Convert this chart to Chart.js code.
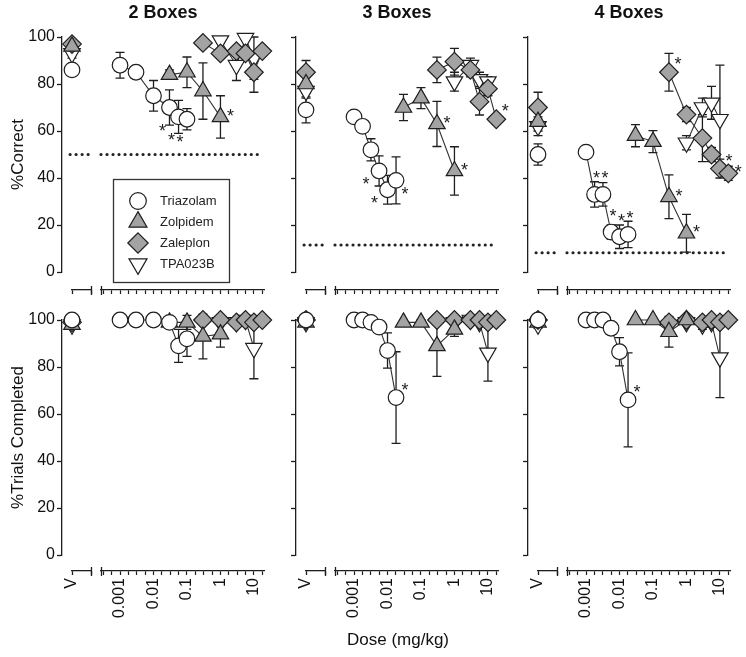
<!DOCTYPE html>
<html><head><meta charset="utf-8">
<script src="https://cdn.jsdelivr.net/npm/chart.js@4.4.1/dist/chart.umd.min.js"></script>
<style>
html,body{margin:0;padding:0;background:#fff;}
#wrap{position:relative;width:746px;height:657px;overflow:hidden;font-family:'Liberation Sans',Arial,Helvetica,sans-serif;}
canvas{position:absolute;}
#xlabel{position:absolute;left:298px;width:200px;top:630px;text-align:center;font-size:17px;color:#111;}
</style></head>
<body><div id="wrap">
<canvas id="p00" width="280" height="300" style="left:0px;top:0px;width:280px;height:300px"></canvas>
<canvas id="p01" width="250" height="300" style="left:264px;top:0px;width:250px;height:300px"></canvas>
<canvas id="p02" width="248" height="300" style="left:498px;top:0px;width:248px;height:300px"></canvas>
<canvas id="p10" width="280" height="357" style="left:0px;top:300px;width:280px;height:357px"></canvas>
<canvas id="p11" width="250" height="357" style="left:264px;top:300px;width:250px;height:357px"></canvas>
<canvas id="p12" width="248" height="357" style="left:498px;top:300px;width:248px;height:357px"></canvas>
<div id="xlabel">Dose (mg/kg)</div>
</div>
<script>
// ---------------- DATA ----------------
const PANEL_TITLES = ['2 Boxes', '3 Boxes', '4 Boxes'];
const ROW_TITLES = ['%Correct', '%Trials Completed'];
const DRUGS = ['Triazolam', 'Zolpidem', 'Zaleplon', 'TPA023B'];
const VEHICLE_LABEL = 'V';
const DOSE_LABEL_VALUES = [0.001, 0.01, 0.1, 1, 10];
const DOSE_TICK_LABELS = ['0.001', '0.01', '0.1', '1', '10'];
const CHANCE = [50, 11.5, 8.2];

const triazolamDose = [
  [0.001, 0.003, 0.01, 0.03, 0.056, 0.1],
  [0.001, 0.0018, 0.0032, 0.0056, 0.01, 0.018],
  [0.001, 0.0018, 0.0032, 0.0056, 0.01, 0.018]
];
const zolpidemDose = [0.03, 0.1, 0.3, 1];
const zaleplonDose = [0.3, 1, 3, 5.6, 10, 17.8];
const tpa023bDose = [1, 3, 5.6, 10];

// %Correct (per panel: 2, 3, 4 boxes)
const vehCorrect = [[86, 96, 97, 93], [69, 80, 85, 77], [50, 64, 70, 62]];
const vehCorrectSem = [[2.5, 2, 1.5, 2], [5.5, 4, 5, 3], [4.5, 4, 6.5, 4]];
const triazolamCorrect = [[88, 85, 75, 70, 66, 65], [66, 62, 52, 43, 35, 39], [51, 33, 33, 17, 15, 16]];
const triazolamCorrectSem = [[5.5, 1.5, 6.5, 7.5, 7, 4.5], [1, 1.5, 4.7, 6.4, 6.1, 10], [1, 5.4, 5, 3, 5, 5.6]];
const triazolamCorrectSig = [['', '', '', 'bl', 'bl', 'bl'], ['', '', '', 'l', 'l', 'br'], ['', 'u', 'u', 'u', 'u', 'u']];
const zolpidemCorrect = [[84, 85, 77, 66], [70, 74, 63, 43], [58, 55.5, 32, 16.5]];
const zolpidemCorrectSem = [[2, 6.5, 12, 9], [5.6, 4.5, 9.6, 10.3], [4.7, 4.7, 9.3, 8]];
const zolpidemCorrectSig = [['', '', '', 'r'], ['', '', 'r', 'r'], ['', '', 'r', 'r']];
const zaleplonCorrect = [[97.5, 93, 94, 93, 85, 94], [86, 89.5, 86, 72.5, 78, 65], [85, 67, 57, 50, 44, 42]];
const zaleplonCorrectSem = [[1, 2, 2, 2, 8.5, 2], [5.4, 5.7, 3, 5.7, 3, 2], [8, 3, 10, 3, 4, 3]];
const zaleplonCorrectSig = [['', '', '', '', '', ''], ['', '', '', '', '', 'ur'], ['ur', '', '', '', 'ur', 'r']];
const tpa023bCorrect = [[98.5, 88, 99.5, 91], [81, 88, 82, 81], [55, 70, 72, 65]];
const tpa023bCorrectSem = [[1, 6.5, 1, 9], [4, 3, 3, 2], [3, 4, 7, 23]];

// %Trials Completed
const vehCompleted = [[100, 98, 99, 98], [100, 99, 100, 99], [100, 99, 100, 98]];
const vehCompletedSem = [[0.5, 1, 1, 1], [0.5, 1, 0.5, 1], [0.5, 1, 0.5, 1.5]];
const triazolamCompleted = [[100, 100, 100, 99, 89, 92], [100, 100, 99, 97, 87, 67], [100, 100, 100, 96.5, 86.5, 66]];
const triazolamCompletedSem = [[0.5, 0.5, 0.5, 1, 7, 7.5], [0.5, 0.5, 1, 1.5, 7.5, 19.5], [0.5, 0.5, 0.5, 1.5, 6, 20]];
const triazolamCompletedSig = [['', '', '', '', '', ''], ['', '', '', '', '', 'ur'], ['', '', '', '', '', 'ur']];
const zolpidemCompleted = [[99, 99, 93, 94], [99, 99, 89, 96], [100, 100, 95, 100]];
const zolpidemCompletedSem = [[1, 3, 9.5, 5.5], [1, 1, 13, 3], [0.5, 0.5, 6.5, 0.5]];
const zaleplonCompleted = [[100, 100, 99, 100, 99, 100], [100, 100, 100, 100, 99, 100], [99, 100, 99, 100, 99, 100]];
const zaleplonCompletedSem = [[0.5, 0.5, 1, 0.5, 1, 0.5], [0.5, 0.5, 0.5, 0.5, 1, 0.5], [1, 0.5, 1, 0.5, 1, 0.5]];
const tpa023bCompleted = [[99, 99, 100, 88], [99, 100, 99, 86], [99, 98, 99, 84]];
const tpa023bCompletedSem = [[1, 1, 1, 13], [1, 1, 1, 12], [1, 2, 2, 17]];

// ---------------- STYLE / LAYOUT ----------------
const FONT = "'Liberation Sans', Arial, Helvetica, sans-serif";
Chart.defaults.font.family = FONT;
Chart.defaults.color = '#111';
const INK = '#1e1e1e';
const GRAY = '#a3a3a3';
const STYLE = {
  Triazolam: {pointStyle: 'circle', radius: 7.8, rotation: 0, fill: '#ffffff', legendR: 8.3},
  Zolpidem: {pointStyle: 'triangle', radius: 9.5, rotation: 0, fill: GRAY, legendR: 10.4},
  Zaleplon: {pointStyle: 'rectRot', radius: 9.3, rotation: 0, fill: GRAY, legendR: 10.2},
  TPA023B: {pointStyle: 'triangle', radius: 9.5, rotation: 180, fill: '#ffffff', legendR: 10.4}
};
const STAR_OFFSETS = {r: [10, -5], ur: [9, -12], u: [2, -20], l: [-13, 9], bl: [-7, 19], br: [9, 10]};
const DOSE_MIN = 0.00027, DOSE_MAX = 20;
const DOSE_TICKS = [];
for (let k = -14; k <= 5; k++) DOSE_TICKS.push(Math.pow(10, k / 4));
const Y_WIDTH = [62, 32, 30];
const ROW_GEOM = [
  {padTop: 0, spacer: 18, xHeight: 10},
  {padTop: 20, spacer: 16, xHeight: 86}
];
const LEGEND_BOX = {x: 113, y: 179, w: 116, h: 103};

// ---------------- PLUGINS ----------------
const errorBars = {
  id: 'errorBars',
  beforeDatasetsDraw(chart) {
    const ctx = chart.ctx;
    ctx.save();
    ctx.strokeStyle = INK;
    ctx.lineWidth = 1.3;
    chart.data.datasets.forEach((ds, i) => {
      if (!ds.sem) return;
      const meta = chart.getDatasetMeta(i);
      const ys = chart.scales[ds.yAxisID];
      meta.data.forEach((pt, j) => {
        const e = ds.sem[j];
        if (!e) return;
        const v = ds.data[j].y;
        const y1 = ys.getPixelForValue(v + e), y2 = ys.getPixelForValue(v - e);
        const x = pt.x;
        ctx.beginPath();
        ctx.moveTo(x, y1); ctx.lineTo(x, y2);
        ctx.moveTo(x - 4.5, y1); ctx.lineTo(x + 4.5, y1);
        ctx.moveTo(x - 4.5, y2); ctx.lineTo(x + 4.5, y2);
        ctx.stroke();
      });
    });
    ctx.restore();
  }
};
const stars = {
  id: 'stars',
  afterDatasetsDraw(chart) {
    const ctx = chart.ctx;
    ctx.save();
    ctx.fillStyle = INK;
    ctx.font = '18px ' + FONT;
    ctx.textAlign = 'center';
    ctx.textBaseline = 'alphabetic';
    chart.data.datasets.forEach((ds, i) => {
      if (!ds.sig) return;
      const meta = chart.getDatasetMeta(i);
      meta.data.forEach((pt, j) => {
        const code = ds.sig[j];
        if (!code) return;
        const o = STAR_OFFSETS[code];
        ctx.fillText('*', pt.x + o[0], pt.y + o[1] + 10);
      });
    });
    ctx.restore();
  }
};
const axisBreak = {
  id: 'axisBreak',
  afterDraw(chart) {
    const xv = chart.scales.xv, xd = chart.scales.x;
    const ctx = chart.ctx;
    const y0 = xv.top;
    ctx.save();
    ctx.strokeStyle = INK;
    ctx.lineWidth = 1.3;
    ctx.beginPath();
    ctx.moveTo(Math.round(xv.right) + 0.5, y0 - 4); ctx.lineTo(Math.round(xv.right) + 0.5, y0 + 5);
    ctx.moveTo(Math.round(xd.left) + 0.5, y0 - 4); ctx.lineTo(Math.round(xd.left) + 0.5, y0 + 5);
    ctx.stroke();
    ctx.restore();
  }
};
function drawMarker(ctx, st, x, y, r) {
  ctx.beginPath();
  if (st.pointStyle === 'circle') {
    ctx.arc(x, y, r, 0, Math.PI * 2);
  } else if (st.pointStyle === 'rectRot') {
    ctx.moveTo(x, y - r); ctx.lineTo(x + r, y); ctx.lineTo(x, y + r); ctx.lineTo(x - r, y); ctx.closePath();
  } else {
    const s = st.rotation ? -1 : 1;
    ctx.moveTo(x, y - s * r);
    ctx.lineTo(x + r * 0.866, y + s * r / 2);
    ctx.lineTo(x - r * 0.866, y + s * r / 2);
    ctx.closePath();
  }
  ctx.fillStyle = st.fill; ctx.fill();
  ctx.strokeStyle = INK; ctx.lineWidth = 1.2; ctx.stroke();
}
const boxLegend = {
  id: 'boxLegend',
  afterDraw(chart) {
    const ctx = chart.ctx, L = LEGEND_BOX;
    ctx.save();
    ctx.strokeStyle = '#333';
    ctx.lineWidth = 1.3;
    ctx.strokeRect(L.x + 0.5, L.y + 0.5, L.w, L.h);
    DRUGS.forEach((name, k) => {
      const st = STYLE[name];
      const cy = L.y + 22 + k * 21;
      drawMarker(ctx, st, L.x + 25, cy, st.legendR);
      ctx.fillStyle = '#222';
      ctx.font = '13px ' + FONT;
      ctx.textAlign = 'left';
      ctx.textBaseline = 'middle';
      ctx.fillText(name, L.x + 47, cy);
    });
    ctx.restore();
  }
};

// ---------------- BUILD ----------------
function noPad(s) { s.paddingLeft = 0; s.paddingRight = 0; s.paddingTop = 0; s.paddingBottom = 0; }
function hiddenScale(pos, weight, stack, stackWeight, fitFn) {
  return {
    type: 'linear', position: pos, weight: weight, stack: stack, stackWeight: stackWeight,
    display: true, min: 0, max: 1,
    ticks: {display: false}, grid: {display: false}, border: {display: false},
    afterFit: fitFn
  };
}
function doseLabel(v) {
  for (let i = 0; i < DOSE_LABEL_VALUES.length; i++) {
    if (Math.abs(Math.log10(v) - Math.log10(DOSE_LABEL_VALUES[i])) < 1e-6) return DOSE_TICK_LABELS[i];
  }
  return '';
}
function buildPanel(row, col) {
  const top = row === 0;
  const g = ROW_GEOM[row];
  const series = [
    {name: 'Triazolam', dose: triazolamDose[col],
     val: (top ? triazolamCorrect : triazolamCompleted)[col],
     sem: (top ? triazolamCorrectSem : triazolamCompletedSem)[col],
     sig: (top ? triazolamCorrectSig : triazolamCompletedSig)[col]},
    {name: 'Zolpidem', dose: zolpidemDose,
     val: (top ? zolpidemCorrect : zolpidemCompleted)[col],
     sem: (top ? zolpidemCorrectSem : zolpidemCompletedSem)[col],
     sig: top ? zolpidemCorrectSig[col] : null},
    {name: 'Zaleplon', dose: zaleplonDose,
     val: (top ? zaleplonCorrect : zaleplonCompleted)[col],
     sem: (top ? zaleplonCorrectSem : zaleplonCompletedSem)[col],
     sig: top ? zaleplonCorrectSig[col] : null},
    {name: 'TPA023B', dose: tpa023bDose,
     val: (top ? tpa023bCorrect : tpa023bCompleted)[col],
     sem: (top ? tpa023bCorrectSem : tpa023bCompletedSem)[col],
     sig: null}
  ];
  const veh = (top ? vehCorrect : vehCompleted)[col];
  const vehSem = (top ? vehCorrectSem : vehCompletedSem)[col];
  const datasets = [];
  series.forEach((s, k) => {
    const st = STYLE[s.name];
    const common = {
      type: 'line', yAxisID: 'y', clip: false, order: k + 1,
      pointStyle: st.pointStyle, pointRadius: st.radius, pointRotation: st.rotation,
      pointBackgroundColor: st.fill, pointBorderColor: INK, pointBorderWidth: 1.2,
      pointHoverRadius: st.radius
    };
    datasets.push(Object.assign({}, common, {
      label: s.name, xAxisID: 'x',
      data: s.dose.map((d, j) => ({x: d, y: s.val[j]})),
      sem: s.sem, sig: s.sig,
      showLine: true, borderColor: '#333', borderWidth: 1.1, tension: 0
    }));
    datasets.push(Object.assign({}, common, {
      label: s.name + ' vehicle', xAxisID: 'xv',
      data: [{x: 0, y: veh[k]}], sem: [vehSem[k]], showLine: false
    }));
  });
  if (top) {
    const dotted = {type: 'line', yAxisID: 'y', clip: false, order: 10, pointRadius: 0,
      borderColor: '#222', borderWidth: 3.2, borderDash: [0.01, 6], borderCapStyle: 'round', showLine: true};
    datasets.push(Object.assign({}, dotted, {label: 'chance V', xAxisID: 'xv',
      data: [{x: -0.1, y: CHANCE[col]}, {x: 0.85, y: CHANCE[col]}]}));
    datasets.push(Object.assign({}, dotted, {label: 'chance', xAxisID: 'x',
      data: [{x: DOSE_MIN, y: CHANCE[col]}, {x: 15, y: CHANCE[col]}]}));
  }
  const fitH = s => { s.height = g.xHeight; noPad(s); };
  const axisBorder = {display: true, color: INK, width: 1.3};
  const tickFont = {size: 16};
  const scales = {
    y: {
      type: 'linear', position: 'left', weight: 1, stack: 'v', stackWeight: 235,
      min: 0, max: 100,
      ticks: {stepSize: 20, display: col === 0, font: tickFont, padding: 2, color: '#111'},
      grid: {drawOnChartArea: false, drawTicks: true, tickLength: 5, color: INK, tickWidth: 1.3},
      border: axisBorder,
      title: {display: col === 0, text: ROW_TITLES[row], font: {size: 17}, color: '#111', padding: {top: 8, bottom: 0}},
      afterFit: s => { s.width = Y_WIDTH[col]; noPad(s); }
    },
    ys: hiddenScale('left', 0, 'v', g.spacer, s => { s.width = 0; noPad(s); }),
    xs1: hiddenScale('bottom', 0, 'h', 10, fitH),
    xv: {
      type: 'linear', position: 'bottom', weight: 1, stack: 'h', stackWeight: 19,
      min: 0, max: 1,
      afterBuildTicks: s => { s.ticks = [{value: 0}, {value: 1}]; },
      ticks: {display: !top, callback: v => (v === 0 ? VEHICLE_LABEL : ''), autoSkip: false, maxRotation: 90, minRotation: 90, font: tickFont, padding: 3, color: '#111'},
      grid: {drawOnChartArea: false, drawTicks: true, tickLength: 4, color: INK, tickWidth: 1.3},
      border: axisBorder,
      afterFit: fitH
    },
    xs2: hiddenScale('bottom', 2, 'h', 10, fitH),
    x: {
      type: 'logarithmic', position: 'bottom', weight: 3, stack: 'h', stackWeight: 163,
      min: DOSE_MIN, max: DOSE_MAX,
      afterBuildTicks: s => { s.ticks = DOSE_TICKS.map(v => ({value: v})); },
      ticks: {display: !top, callback: v => doseLabel(v), autoSkip: false, maxRotation: 90, minRotation: 90, font: tickFont, padding: 3, color: '#111'},
      grid: {drawOnChartArea: false, drawTicks: true, tickLength: 4, color: INK, tickWidth: 1.2},
      border: axisBorder,
      afterFit: fitH
    }
  };
  const plugins = [errorBars, stars, axisBreak];
  if (row === 0 && col === 0) plugins.push(boxLegend);
  return new Chart(document.getElementById('p' + row + col), {
    type: 'line',
    data: {datasets: datasets},
    options: {
      responsive: false, animation: false, devicePixelRatio: 1, events: [],
      layout: {padding: {left: 0, right: 16, top: g.padTop, bottom: 0}, autoPadding: false},
      scales: scales,
      plugins: {
        legend: {display: false}, tooltip: {enabled: false},
        title: {display: top, text: PANEL_TITLES[col], fullSize: false, align: 'center',
                font: {size: 18, weight: 'bold', lineHeight: 1.2}, color: '#111', padding: {top: 2, bottom: 13.4}}
      }
    },
    plugins: plugins
  });
}
for (let r = 0; r < 2; r++) for (let c = 0; c < 3; c++) buildPanel(r, c);
</script>
</body></html>
